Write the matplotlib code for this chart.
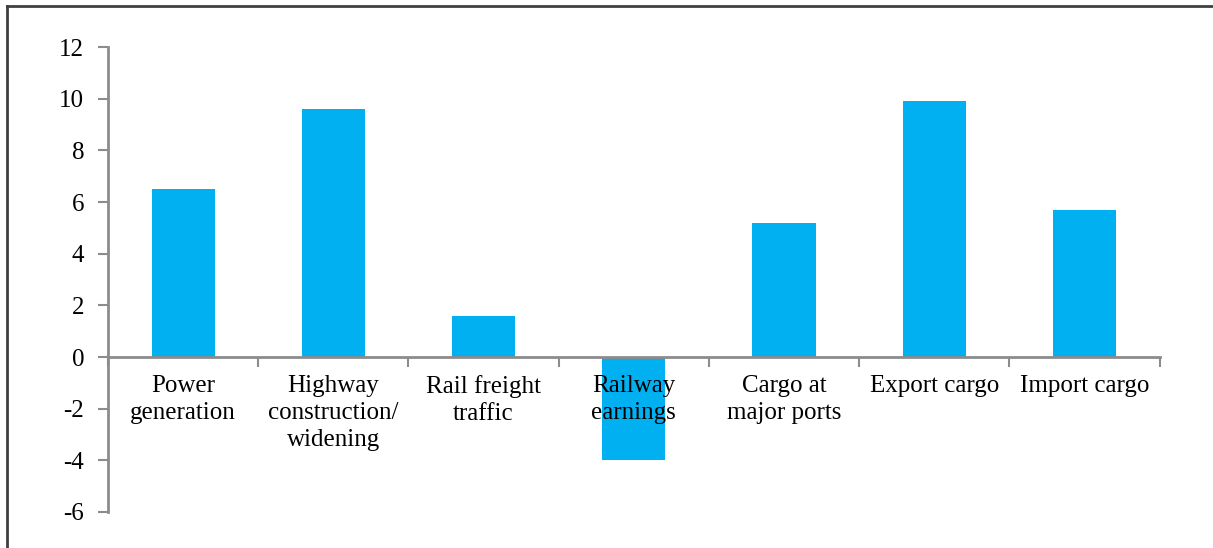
import matplotlib.pyplot as plt
from matplotlib.lines import Line2D
import numpy as np

categories = ['Power\ngeneration', 'Highway\nconstruction/\nwidening', 'Rail freight\ntraffic',
              'Railway\nearnings', 'Cargo at\nmajor ports', 'Export cargo', 'Import cargo']
values = [6.5, 9.6, 1.6, -4.0, 5.2, 9.9, 5.7]
yticks = [-6, -4, -2, 0, 2, 4, 6, 8, 10, 12]

plt.rcParams['font.family'] = ['Liberation Serif', 'DejaVu Serif']
plt.rcParams['xtick.labelsize'] = 18
plt.rcParams['ytick.labelsize'] = 18
axis_grey = '#8c8c8c'

fig = plt.figure(figsize=(12.13, 5.48), dpi=100)
ax = fig.add_axes([0.089, 0.0657, 0.867, 0.8483])

# spines first: moving the bottom spine rebuilds the x ticks
for side in ['top', 'right']:
    ax.spines[side].set_visible(False)
ax.spines['bottom'].set_position(('data', 0))
ax.spines['bottom'].set_color(axis_grey)
ax.spines['bottom'].set_linewidth(2)
ax.spines['bottom'].set_zorder(3)
ax.spines['left'].set_color(axis_grey)
ax.spines['left'].set_linewidth(2)

x = np.arange(len(categories))
ax.bar(x, values, width=0.42, color='#00b0f0', zorder=1)

ax.set_xlim(-0.5, len(categories) - 0.5)
ax.set_ylim(-6, 12)

# category labels in the middle, tick marks on the boundaries
ax.set_xticks(x)
ax.set_xticks(np.arange(len(categories) + 1) - 0.5, minor=True)
ax.set_yticks(yticks)
ax.tick_params(axis='x', which='major', length=0, pad=13)
ax.tick_params(axis='x', which='minor', length=7, direction='out', color=axis_grey, width=1.5)
ax.tick_params(axis='y', length=7, color=axis_grey, width=1.5, pad=10)
ax.set_xticklabels(categories, linespacing=1.3, va='top')
ax.set_yticklabels([str(v) for v in yticks])

# outer frame
fig.add_artist(Line2D([0.0058, 1.0], [0.989, 0.989], transform=fig.transFigure, color='#404040', lw=2))
fig.add_artist(Line2D([0.0058, 0.0058], [0.0, 0.989], transform=fig.transFigure, color='#404040', lw=2))

fig.savefig('out.png', dpi=100)
